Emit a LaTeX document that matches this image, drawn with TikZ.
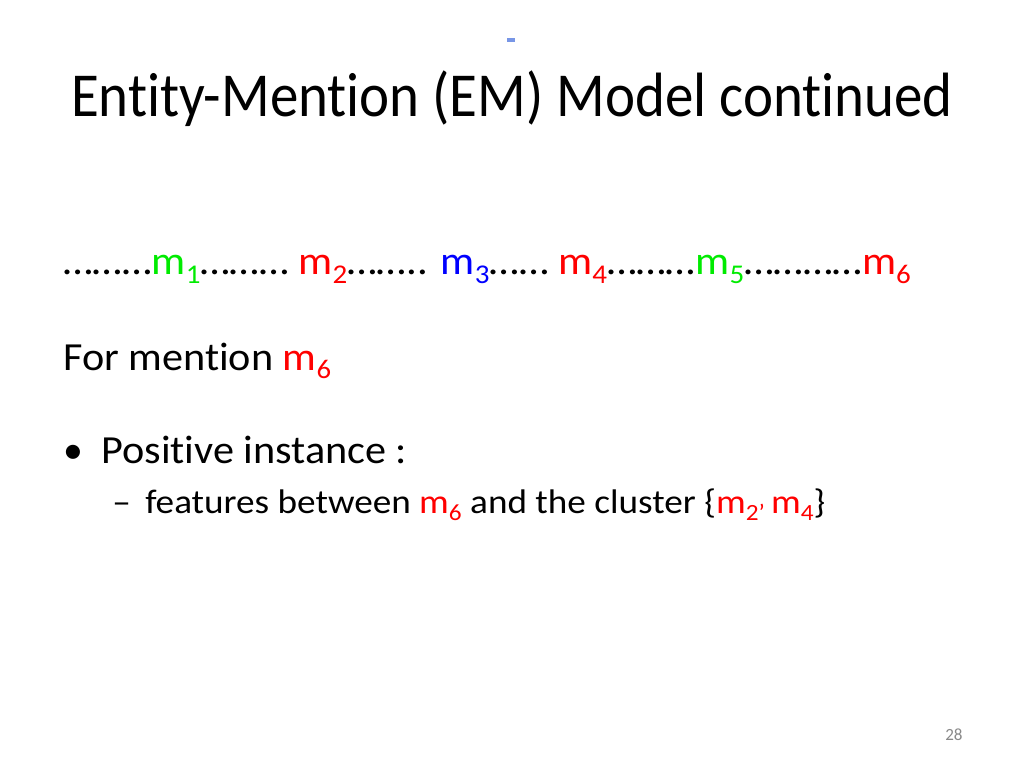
\documentclass[tikz,border=0pt]{standalone}
\usepackage{fontspec}
\setmainfont{Carlito}[Ligatures={NoCommon}]
\usepackage{xcolor}
\usetikzlibrary{positioning}
\definecolor{mgreen}{RGB}{0,235,0}
\definecolor{mred}{RGB}{255,0,0}
\definecolor{mblue}{RGB}{0,0,255}
\definecolor{pnum}{RGB}{137,137,137}
\definecolor{speck}{RGB}{120,150,230}
\tikzstyle{title} = [font=\fontsize{44}{50}\selectfont, anchor=base, inner sep=0pt]
\tikzstyle{body} = [font=\fontsize{28}{34}\selectfont, anchor=base west, inner sep=0pt]
\tikzstyle{subtext} = [font=\fontsize{24}{29}\selectfont, anchor=base west, inner sep=0pt]
\tikzstyle{pagenum} = [font=\fontsize{12}{14}\selectfont, text=pnum, anchor=base west, inner sep=0pt]
\newcommand{\msub}[1]{\raisebox{-0.22em}{\scalebox{0.68}{#1}}}
\newcommand{\mgreen}[1]{\textcolor{mgreen}{m\msub{#1}}}
\newcommand{\mred}[1]{\textcolor{mred}{m\msub{#1}}}
\newcommand{\mblue}[1]{\textcolor{mblue}{m\msub{#1}}}
\newcommand{\widen}[2]{\scalebox{#1}[1]{#2}}

\begin{document}
\begin{tikzpicture}[x=0.703125pt, y=-0.703125pt]
    \useasboundingbox [fill=white] (0,0) rectangle (1024,768);
    \fill [speck] (507,38) rectangle (515,42);

    \node [title] (heading) at (512,117) {\widen{0.91}{Entity-Mention (EM) Model continued}};

    \node [body] (mentions) at (63,275) {\widen{1.072}{………\mgreen{1}……… \mred{2}…….. \mblue{3}…… \mred{4}………\mgreen{5}…………\mred{6}}};
    \node [body] (formention) at (63,370) {\widen{1.06}{For mention \mred{6}}};

    \node [body] (bullet) at (63,463) {•};
    \node [body] (positive) at (101,463) {\widen{1.06}{Positive instance :}};
    \node [subtext] (dash) at (112,513) {\widen{1.09}{–}};
    \node [subtext] (features) at (145,513) {\widen{1.09}{features between \mred{6} and the cluster \{\mred{2’}\,\mred{4}\}}};

    \node [pagenum] (page) at (945,740) {28};
\end{tikzpicture}
\end{document}
